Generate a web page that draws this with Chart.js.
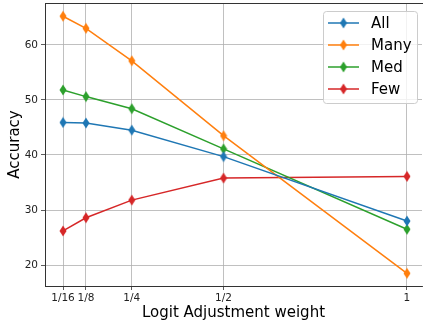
<!DOCTYPE html>
<html>
<head>
<meta charset="utf-8">
<script src="https://cdn.jsdelivr.net/npm/chart.js@4.4.1/dist/chart.umd.min.js"></script>
<style>
  html, body { margin: 0; padding: 0; background: #fff; }
  #wrap { width: 423px; height: 322px; }
</style>
</head>
<body>
<div id="wrap"><canvas id="chart" width="423" height="322"></canvas></div>
<script>
const weights = [0.0625, 0.125, 0.25, 0.5, 1];
const xTickLabels = ['1/16', '1/8', '1/4', '1/2', '1'];
const yTicks = [20, 30, 40, 50, 60];

const allAcc  = [45.9, 45.8, 44.5, 39.7, 28.0];
const manyAcc = [65.2, 63.0, 57.1, 43.5, 18.5];
const medAcc  = [51.8, 50.6, 48.4, 41.1, 26.5];
const fewAcc  = [26.2, 28.6, 31.8, 35.8, 36.1];

const seriesNames = ['All', 'Many', 'Med', 'Few'];
const seriesColors = ['#1f77b4', '#ff7f0e', '#2ca02c', '#d62728'];
const seriesData = [allAcc, manyAcc, medAcc, fewAcc];

const FONT = "'DejaVu Sans', sans-serif";

// thin diamond like matplotlib's 'd' marker
function thinDiamond(color) {
    const c = document.createElement('canvas');
    c.width = 8; c.height = 12;
    const g = c.getContext('2d');
    g.fillStyle = color;
    g.beginPath();
    g.moveTo(4, 0.5);
    g.lineTo(7.5, 6);
    g.lineTo(4, 11.5);
    g.lineTo(0.5, 6);
    g.closePath();
    g.fill();
    return c;
}

const markers = seriesColors.map(thinDiamond);

const datasets = seriesNames.map((name, i) => ({
    label: name,
    data: weights.map((w, j) => ({ x: w, y: seriesData[i][j] })),
    borderColor: seriesColors[i],
    backgroundColor: seriesColors[i],
    borderWidth: 1.5,
    pointStyle: markers[i],
    tension: 0
}));

// no extra room for tick label overflow
function noPad(axis) {
    axis.paddingTop = 0;
    axis.paddingBottom = 0;
    axis.paddingLeft = 0;
    axis.paddingRight = 0;
}

// top spine + legend inside the plot, upper right
const innerLegend = {
    id: 'innerLegend',
    afterDraw(chart) {
        const ctx = chart.ctx;
        const a = chart.chartArea;
        ctx.save();
        ctx.strokeStyle = '#333';
        ctx.lineWidth = 1;
        ctx.beginPath();
        ctx.moveTo(a.left, Math.round(a.top) + 0.5);
        ctx.lineTo(chart.width, Math.round(a.top) + 0.5);
        ctx.stroke();

        const x0 = 323, y0 = 11, w = 94, h = 92;
        ctx.fillStyle = 'rgba(255,255,255,0.8)';
        ctx.strokeStyle = '#cccccc';
        ctx.beginPath();
        ctx.roundRect(x0 + 0.5, y0 + 0.5, w, h, 3);
        ctx.fill();
        ctx.stroke();
        ctx.font = '15px ' + FONT;
        ctx.textBaseline = 'middle';
        seriesNames.forEach((name, i) => {
            const y = y0 + 12 + i * 22;
            ctx.strokeStyle = seriesColors[i];
            ctx.lineWidth = 1.5;
            ctx.beginPath();
            ctx.moveTo(328, y);
            ctx.lineTo(359, y);
            ctx.stroke();
            ctx.drawImage(markers[i], 343.5 - 4, y - 6);
            ctx.fillStyle = '#000';
            ctx.fillText(name, 371, y + 1);
        });
        ctx.restore();
    }
};

new Chart(document.getElementById('chart'), {
    type: 'line',
    data: { datasets: datasets },
    options: {
        responsive: false,
        animation: false,
        layout: { autoPadding: false, padding: { top: 3, right: 1, left: 0, bottom: 0 } },
        plugins: { legend: { display: false }, tooltip: { enabled: false } },
        elements: { point: { radius: 5 } },
        scales: {
            x: {
                type: 'linear',
                min: 0.0134,
                max: 1.041,
                afterBuildTicks(axis) { axis.ticks = weights.map(v => ({ value: v })); },
                afterFit(axis) { axis.height = 36; noPad(axis); },
                ticks: {
                    autoSkip: false,
                    maxRotation: 0,
                    padding: 2,
                    color: '#222',
                    font: { family: FONT, size: 10.5 },
                    callback: (v) => xTickLabels[weights.indexOf(v)]
                },
                grid: { color: '#b0b0b0', tickColor: '#333', tickLength: 4, lineWidth: 0.8 },
                border: { color: '#333', width: 1 },
                title: {
                    display: true,
                    text: 'Logit Adjustment weight',
                    color: '#000',
                    font: { family: FONT, size: 15 },
                    padding: { top: 0, bottom: 0 }
                }
            },
            y: {
                min: 16.2,
                max: 67.6,
                afterBuildTicks(axis) { axis.ticks = yTicks.map(v => ({ value: v })); },
                afterFit(axis) { axis.width = 45; noPad(axis); },
                ticks: {
                    padding: 3,
                    color: '#222',
                    font: { family: FONT, size: 10.5 }
                },
                grid: { color: '#b0b0b0', tickColor: '#333', tickLength: 4, lineWidth: 0.8 },
                border: { color: '#333', width: 1 },
                title: {
                    display: true,
                    text: 'Accuracy',
                    color: '#000',
                    font: { family: FONT, size: 15 },
                    padding: { top: 6, bottom: 0 }
                }
            }
        }
    },
    plugins: [innerLegend]
});
</script>
</body>
</html>
